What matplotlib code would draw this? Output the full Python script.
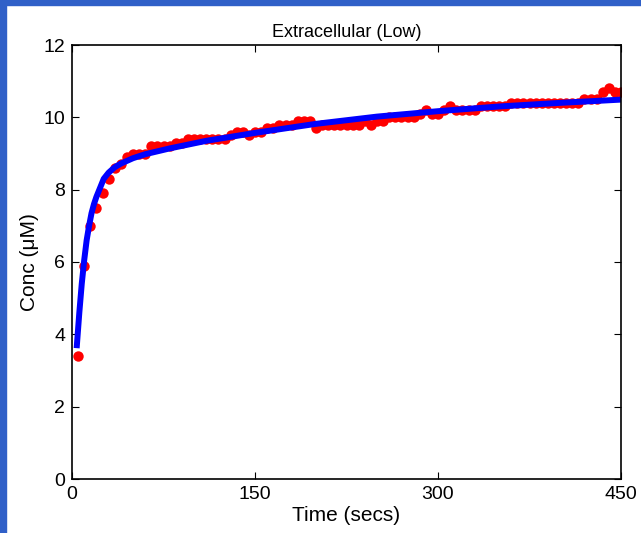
import numpy as np
import matplotlib
matplotlib.use('Agg')
import matplotlib.pyplot as plt
from matplotlib.patches import Rectangle

plt.rcParams['font.family'] = ['Liberation Sans', 'DejaVu Sans']

# measured concentrations, sampled every 5 s
time = np.arange(5, 455, 5)
conc = [3.4, 5.9, 7.0, 7.5, 7.9, 8.3, 8.6, 8.7, 8.9, 9.0,
        9.0, 9.0, 9.2, 9.2, 9.2, 9.2, 9.3, 9.3, 9.4, 9.4,
        9.4, 9.4, 9.4, 9.4, 9.4, 9.5, 9.6, 9.6, 9.5, 9.6,
        9.6, 9.7, 9.7, 9.8, 9.8, 9.8, 9.9, 9.9, 9.9, 9.7,
        9.8, 9.8, 9.8, 9.8, 9.8, 9.8, 9.8, 9.9, 9.8, 9.9,
        9.9, 10.0, 10.0, 10.0, 10.0, 10.0, 10.1, 10.2, 10.1, 10.1,
        10.2, 10.3, 10.2, 10.2, 10.2, 10.2, 10.3, 10.3, 10.3, 10.3,
        10.3, 10.4, 10.4, 10.4, 10.4, 10.4, 10.4, 10.4, 10.4, 10.4,
        10.4, 10.4, 10.4, 10.5, 10.5, 10.5, 10.7, 10.8, 10.7, 10.7]

# fitted curve
fit_t = [4, 6, 8, 10, 12, 14, 16, 18, 20, 23, 26, 30, 35, 40, 50, 60,
         80, 110, 150, 200, 250, 300, 350, 400, 450]
fit_y = [3.7, 4.6, 5.4, 6.05, 6.6, 7.0, 7.35, 7.6, 7.8, 8.05, 8.3, 8.47,
         8.62, 8.72, 8.87, 8.98, 9.14, 9.35, 9.57, 9.82, 10.02, 10.17,
         10.3, 10.4, 10.49]

fig = plt.figure(figsize=(6.41, 5.33), dpi=100)
ax = fig.add_axes([72 / 641, 54 / 533, 549 / 641, 434 / 533])

ax.plot(time, conc, 'o', color='red', markersize=7.5, markeredgewidth=0)
ax.plot(fit_t, fit_y, '-', color='blue', linewidth=4.3)

ax.set_xlim(0, 450)
ax.set_ylim(0, 12)
ax.set_xticks([0, 150, 300, 450])
ax.set_yticks([0, 2, 4, 6, 8, 10, 12])
ax.tick_params(direction='in', length=5, width=0.8, top=True, right=True,
               labelsize=14, pad=5)
for s in ax.spines.values():
    s.set_linewidth(1.2)

ax.set_xlabel('Time (secs)', fontsize=15, labelpad=2)
ax.set_ylabel('Conc (\u03bcM)', fontsize=15, labelpad=3)
ax.set_title('Extracellular (Low)', fontsize=13, pad=6)

# blue frame strips at the left and top edges
fig.patches.append(Rectangle((0, 0), 6 / 641, 1, transform=fig.transFigure,
                             color='#3060c8', zorder=10))
fig.patches.append(Rectangle((0, 1 - 5 / 533), 1, 5 / 533, transform=fig.transFigure,
                             color='#3060c8', zorder=10))

fig.savefig('out.png', dpi=100)
